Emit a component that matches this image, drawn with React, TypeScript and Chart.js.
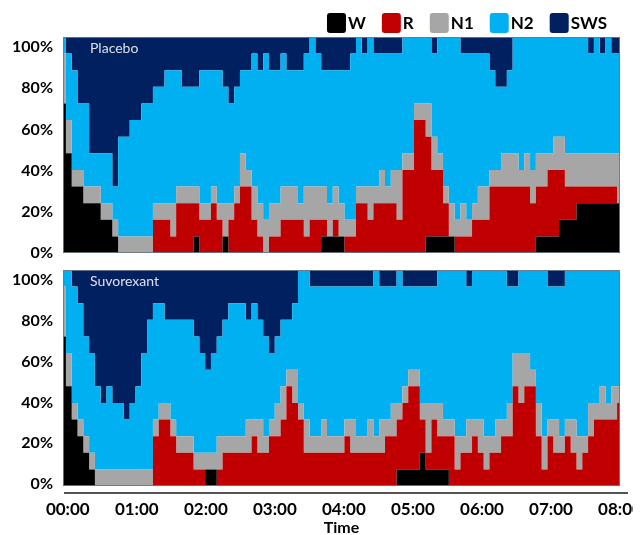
import React, { useEffect, useRef } from "react";
import { Chart, registerables } from "chart.js";

Chart.register(...registerables);

// ---------------- data ----------------
// number of subjects (out of 13) in each sleep stage, every 5 minutes from 00:00 to 08:00
const SUBJECTS = 13;
const MINUTES = Array.from({ length: 97 }, (_, i) => i * 5);
const HOUR_LABELS = ["00:00", "01:00", "02:00", "03:00", "04:00", "05:00", "06:00", "07:00", "08:00"];
const Y_TICKS = [0, 20, 40, 60, 80, 100];
const STAGES = ["W", "R", "N1", "N2", "SWS"];
const STAGE_COLORS = ["#000000", "#C00000", "#A6A6A6", "#00B0F0", "#002060"];
const PANEL_TITLES = ["Placebo", "Suvorexant"];

const placeboW = [
  9, 6, 4, 4, 3, 3, 3, 2, 2, 1,
  0, 0, 0, 0, 0, 0, 0, 0, 0, 0,
  0, 0, 0, 1, 0, 0, 0, 0, 1, 0,
  0, 0, 0, 0, 0, 0, 0, 0, 0, 0,
  0, 0, 0, 0, 0, 1, 1, 1, 1, 0,
  0, 0, 0, 0, 0, 0, 0, 0, 0, 0,
  0, 0, 0, 1, 1, 1, 1, 1, 0, 0,
  0, 0, 0, 0, 0, 0, 0, 0, 0, 0,
  0, 0, 1, 1, 1, 1, 2, 2, 2, 3,
  3, 3, 3, 3, 3, 3, 3,
];
const placeboR = [
  0, 0, 0, 0, 0, 0, 0, 0, 0, 0,
  0, 0, 0, 0, 0, 0, 2, 2, 2, 1,
  3, 3, 3, 2, 2, 2, 3, 2, 0, 2,
  3, 4, 4, 2, 1, 0, 1, 1, 2, 2,
  2, 2, 1, 2, 2, 1, 0, 1, 0, 1,
  1, 3, 3, 2, 3, 3, 3, 3, 2, 5,
  5, 8, 8, 6, 4, 4, 2, 0, 1, 1,
  1, 2, 2, 2, 4, 4, 4, 4, 4, 4,
  4, 3, 3, 3, 4, 4, 3, 2, 2, 1,
  1, 1, 1, 1, 1, 1, 0,
];
const placeboN1 = [
  3, 2, 1, 1, 1, 1, 1, 1, 1, 1,
  1, 1, 1, 1, 1, 1, 1, 1, 1, 2,
  1, 1, 1, 1, 1, 1, 1, 1, 2, 1,
  1, 2, 1, 2, 2, 2, 2, 2, 2, 2,
  2, 1, 3, 2, 2, 2, 2, 2, 2, 1,
  1, 1, 1, 2, 1, 2, 1, 2, 3, 1,
  1, 1, 1, 2, 2, 1, 1, 2, 1, 2,
  1, 1, 2, 2, 1, 1, 2, 2, 2, 1,
  2, 2, 2, 2, 1, 2, 2, 2, 2, 2,
  2, 2, 2, 2, 2, 2, 3,
];
const placeboN2 = [
  1, 4, 6, 4, 5, 2, 2, 3, 3, 2,
  6, 6, 7, 7, 8, 8, 7, 7, 8, 8,
  7, 6, 6, 6, 8, 8, 7, 8, 7, 6,
  6, 5, 6, 8, 8, 10, 8, 8, 8, 7,
  7, 8, 8, 9, 8, 7, 8, 7, 8, 9,
  10, 9, 8, 9, 8, 7, 8, 7, 7, 7,
  7, 4, 4, 4, 5, 7, 9, 10, 11, 9,
  10, 9, 8, 8, 6, 5, 4, 5, 7, 8,
  7, 8, 7, 7, 7, 6, 6, 7, 7, 7,
  7, 6, 7, 6, 7, 6, 6,
];
const placeboSWS = [
  0, 1, 2, 4, 4, 7, 7, 7, 7, 9,
  6, 6, 5, 5, 4, 4, 3, 3, 2, 2,
  2, 3, 3, 3, 2, 2, 2, 2, 3, 4,
  3, 2, 2, 1, 2, 1, 2, 2, 1, 2,
  2, 2, 1, 0, 1, 2, 2, 2, 2, 2,
  1, 0, 1, 0, 1, 1, 1, 1, 1, 0,
  0, 0, 0, 0, 1, 0, 0, 0, 0, 1,
  1, 1, 1, 1, 2, 3, 3, 2, 0, 0,
  0, 0, 0, 0, 0, 0, 0, 0, 0, 0,
  0, 1, 0, 1, 0, 1, 1,
];

const suvoW = [
  9, 6, 4, 3, 2, 1, 0, 0, 0, 0,
  0, 0, 0, 0, 0, 0, 0, 0, 0, 0,
  0, 0, 0, 0, 0, 1, 1, 0, 0, 0,
  0, 0, 0, 0, 0, 0, 0, 0, 0, 0,
  0, 0, 0, 0, 0, 0, 0, 0, 0, 0,
  0, 0, 0, 0, 0, 0, 0, 0, 1, 1,
  1, 1, 2, 1, 1, 1, 1, 0, 0, 0,
  0, 0, 0, 0, 0, 0, 0, 0, 0, 0,
  0, 0, 0, 0, 0, 0, 0, 0, 0, 0,
  0, 0, 0, 0, 0, 0, 0,
];
const suvoR = [
  0, 0, 0, 0, 0, 0, 0, 0, 0, 0,
  0, 0, 0, 0, 0, 0, 3, 4, 4, 3,
  2, 2, 2, 1, 1, 0, 0, 1, 2, 2,
  2, 2, 2, 3, 2, 2, 3, 3, 4, 6,
  5, 4, 2, 2, 2, 2, 2, 2, 2, 3,
  2, 2, 2, 2, 2, 2, 3, 3, 3, 4,
  5, 5, 2, 1, 3, 2, 2, 3, 1, 2,
  2, 3, 2, 1, 2, 2, 3, 3, 6, 5,
  6, 6, 3, 1, 3, 2, 2, 3, 2, 1,
  2, 3, 4, 4, 4, 4, 5,
];
const suvoN1 = [
  3, 2, 1, 1, 1, 1, 1, 1, 1, 1,
  1, 1, 1, 1, 1, 1, 1, 1, 1, 1,
  1, 1, 1, 1, 1, 1, 1, 2, 1, 1,
  1, 1, 2, 1, 2, 1, 1, 2, 2, 1,
  2, 1, 2, 1, 1, 2, 1, 1, 1, 1,
  2, 1, 1, 2, 1, 2, 1, 2, 1, 1,
  1, 1, 1, 3, 1, 2, 1, 1, 2, 1,
  2, 1, 2, 2, 1, 2, 1, 2, 2, 3,
  2, 1, 2, 2, 1, 2, 1, 1, 2, 2,
  1, 2, 1, 2, 1, 2, 1,
];
const suvoN2 = [
  1, 5, 7, 7, 6, 6, 5, 4, 5, 4,
  4, 3, 4, 5, 7, 9, 7, 6, 5, 6,
  7, 7, 7, 7, 6, 5, 6, 6, 7, 8,
  8, 8, 6, 7, 6, 6, 4, 4, 4, 3,
  4, 8, 9, 9, 9, 8, 9, 9, 9, 8,
  8, 9, 9, 8, 10, 8, 8, 7, 8, 6,
  5, 5, 7, 7, 7, 8, 9, 9, 10, 10,
  8, 9, 9, 10, 10, 9, 9, 7, 4, 5,
  5, 6, 8, 10, 8, 8, 9, 9, 9, 10,
  10, 8, 8, 7, 8, 7, 7,
];
const suvoSWS = [
  0, 0, 1, 2, 4, 5, 7, 8, 7, 8,
  8, 9, 8, 7, 5, 3, 2, 2, 3, 3,
  3, 3, 3, 4, 5, 6, 5, 4, 3, 2,
  2, 2, 3, 2, 3, 4, 5, 4, 3, 3,
  2, 0, 0, 1, 1, 1, 1, 1, 1, 1,
  1, 1, 1, 1, 0, 1, 1, 1, 0, 1,
  1, 1, 1, 1, 1, 0, 0, 0, 0, 0,
  1, 0, 0, 0, 0, 0, 0, 1, 1, 0,
  0, 0, 0, 0, 1, 1, 1, 0, 0, 0,
  0, 0, 0, 0, 0, 0, 0,
];

const PLACEBO = [placeboW, placeboR, placeboN1, placeboN2, placeboSWS];
const SUVOREXANT = [suvoW, suvoR, suvoN1, suvoN2, suvoSWS];

// ---------------- styling ----------------
const FONT = "Lato, 'Noto Sans', sans-serif";

function buildDatasets(series: number[][]) {
  return series.map((counts, i) => ({
    label: STAGES[i],
    data: counts.map((c, j) => ({ x: MINUTES[j], y: (c / SUBJECTS) * 100 })),
    backgroundColor: STAGE_COLORS[i],
    borderColor: STAGE_COLORS[i],
    borderWidth: 0,
    pointRadius: 0,
    stepped: "middle",
    fill: i === 0 ? "origin" : "-1",
    yAxisID: "y",
    xAxisID: "x",
  }));
}

const panelPlugin = {
  id: "panelDecor",
  afterDatasetsDraw(chart: any, _args: any, opts: any) {
    const { ctx, chartArea } = chart;
    ctx.save();
    ctx.strokeStyle = "rgba(110,120,140,0.9)";
    ctx.lineWidth = 1;
    ctx.strokeRect(chartArea.left + 0.5, chartArea.top + 0.5, chartArea.right - chartArea.left - 1, chartArea.bottom - chartArea.top - 1);
    ctx.fillStyle = "rgba(235,235,240,0.95)";
    ctx.font = `14px ${FONT}`;
    ctx.textBaseline = "middle";
    ctx.textAlign = "left";
    ctx.fillText(opts.title, chartArea.left + 27, chartArea.top + 11);
    if (opts.axisLine) {
      ctx.strokeStyle = "#1a1a1a";
      ctx.lineWidth = 1.6;
      ctx.beginPath();
      ctx.moveTo(chartArea.left + 1, chartArea.bottom + 7);
      ctx.lineTo(chartArea.right + 8, chartArea.bottom + 7);
      ctx.stroke();
    }
    if (opts.legend) {
      ctx.font = `bold 17px ${FONT}`;
      ctx.textBaseline = "middle";
      const y = 15;
      let x = chartArea.right - 13;
      for (let i = STAGES.length - 1; i >= 0; i--) {
        const w = ctx.measureText(STAGES[i]).width;
        x -= w;
        ctx.fillStyle = "#000";
        ctx.fillText(STAGES[i], x, y + 1);
        x -= 2 + 19;
        ctx.fillStyle = STAGE_COLORS[i];
        ctx.beginPath();
        (ctx as any).roundRect(x, y - 10, 19, 20, 3);
        ctx.fill();
        x -= 16;
      }
    }
    ctx.restore();
  },
};

function zeroPadding(scale: any) {
  scale.paddingTop = 0;
  scale.paddingBottom = 0;
  scale.paddingLeft = 0;
  scale.paddingRight = 0;
}

function makeConfig(series: number[][], title: string, first: boolean): any {
  const labelAxis: any = {
    type: "linear",
    position: "left",
    min: first ? 0 : -1,
    max: first ? 104.85 : 104.9,
    grid: { display: false, drawTicks: false },
    border: { display: false },
    ticks: {
      color: "#000",
      padding: 10,
      font: { family: FONT, size: 16, weight: "bold" },
      callback: (v: number) => `${v}%`,
    },
    afterBuildTicks: (scale: any) => {
      scale.ticks = Y_TICKS.map((v) => ({ value: v }));
    },
    afterFit: (scale: any) => {
      scale.width = 55;
      zeroPadding(scale);
    },
  };
  const scales: any = {
    x: { type: "linear", min: 0, max: 480, display: false },
    y: { type: "linear", min: 0, max: 100, stacked: true, display: false },
    yl: labelAxis,
  };
  if (!first) {
    scales.xt = {
      type: "linear",
      position: "bottom",
      min: -4.16,
      max: 480,
      grid: { display: false, drawTicks: false },
      border: { display: false },
      ticks: {
        color: "#000",
        padding: 13,
        maxRotation: 0,
        autoSkip: false,
        font: { family: FONT, size: 17, weight: "bold" },
        callback: (v: number) => HOUR_LABELS[Math.round(v / 60)],
      },
      afterBuildTicks: (scale: any) => {
        scale.ticks = HOUR_LABELS.map((_, i) => ({ value: i * 60 }));
      },
      title: {
        display: true,
        text: "Time",
        color: "#000",
        font: { family: FONT, size: 16, weight: "bold" },
        padding: { top: 0, bottom: -2 },
      },
      afterFit: (scale: any) => {
        scale.height = 49;
        zeroPadding(scale);
      },
    };
  }
  return {
    type: "line",
    data: { datasets: buildDatasets(series) },
    options: {
      animation: false,
      responsive: true,
      maintainAspectRatio: false,
      events: [],
      layout: {
        padding: first ? { top: 29, bottom: 9, right: 13, left: 0 } : { top: 8, bottom: 0, right: 13, left: 0 },
      },
      plugins: {
        legend: { display: false },
        tooltip: { enabled: false },
        panelDecor: { title, legend: first, axisLine: !first },
      },
      scales,
    },
    plugins: [panelPlugin],
  };
}

export default function App() {
  const ref1 = useRef<HTMLCanvasElement | null>(null);
  const ref2 = useRef<HTMLCanvasElement | null>(null);

  useEffect(() => {
    const c1 = new Chart(ref1.current as HTMLCanvasElement, makeConfig(PLACEBO, PANEL_TITLES[0], true));
    const c2 = new Chart(ref2.current as HTMLCanvasElement, makeConfig(SUVOREXANT, PANEL_TITLES[1], false));
    return () => {
      c1.destroy();
      c2.destroy();
    };
  }, []);

  return (
    <div style={{ width: 625, fontFamily: FONT }}>
      <div style={{ position: "relative", width: 625, height: 254 }}>
        <canvas ref={ref1} />
      </div>
      <div style={{ position: "relative", width: 625, height: 273 }}>
        <canvas ref={ref2} />
      </div>
    </div>
  );
}
